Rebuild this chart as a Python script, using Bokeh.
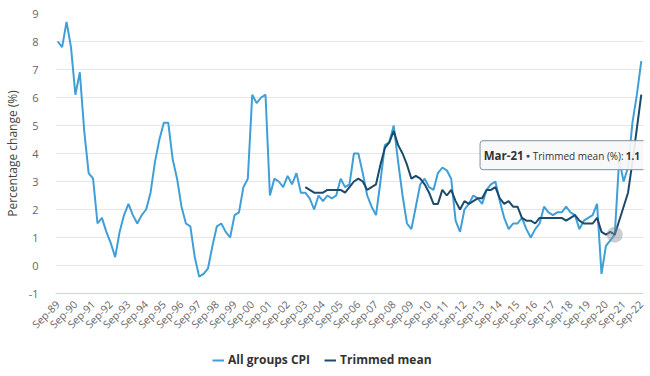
import math
from bokeh.plotting import figure
from bokeh.layouts import column
from bokeh.models import (FixedTicker, Legend, LegendItem, Label, BoxAnnotation,
                          Range1d, ColumnDataSource)
from bokeh.embed import file_html
from bokeh.resources import INLINE

# ---------------- data ----------------
first_quarter = "Sep-89"
n_quarters = 133
quarter_months = ["Sep", "Dec", "Mar", "Jun"]

tick_labels = ["Sep-89", "Sep-90", "Sep-91", "Sep-92", "Sep-93", "Sep-94", "Sep-95",
               "Sep-96", "Sep-97", "Sep-98", "Sep-99", "Sep-00", "Sep-01", "Sep-02",
               "Sep-03", "Sep-04", "Sep-05", "Sep-06", "Sep-07", "Sep-08", "Sep-09",
               "Sep-10", "Sep-11", "Sep-12", "Sep-13", "Sep-14", "Sep-15", "Sep-16",
               "Sep-17", "Sep-18", "Sep-19", "Sep-20", "Sep-21", "Sep-22"]

# All groups CPI, year-ended % change, Sep-89 .. Sep-22
cpi = [8.0, 7.8, 8.7, 7.8, 6.1, 6.9, 4.8, 3.3, 3.1, 1.5,
       1.7, 1.2, 0.8, 0.3, 1.2, 1.8, 2.2, 1.8, 1.5, 1.8,
       2.0, 2.6, 3.7, 4.5, 5.1, 5.1, 3.8, 3.1, 2.1, 1.5,
       1.4, 0.3, -0.4, -0.3, -0.1, 0.7, 1.4, 1.5, 1.2, 1.0,
       1.8, 1.9, 2.8, 3.1, 6.1, 5.8, 6.0, 6.1, 2.5, 3.1,
       3.0, 2.8, 3.2, 2.9, 3.3, 2.6, 2.6, 2.4, 2.0, 2.5,
       2.3, 2.5, 2.4, 2.5, 3.1, 2.8, 2.9, 4.0, 4.0, 3.3,
       2.5, 2.1, 1.8, 3.0, 4.3, 4.4, 5.0, 3.7, 2.5, 1.5,
       1.3, 2.1, 2.9, 3.1, 2.8, 2.7, 3.3, 3.5, 3.4, 3.1,
       1.6, 1.2, 2.0, 2.2, 2.5, 2.4, 2.2, 2.7, 2.9, 3.0,
       2.3, 1.7, 1.3, 1.5, 1.5, 1.7, 1.3, 1.0, 1.3, 1.5,
       2.1, 1.9, 1.8, 1.9, 1.9, 2.1, 1.9, 1.8, 1.3, 1.6,
       1.7, 1.8, 2.2, -0.3, 0.7, 0.9, 1.1, 3.8, 3.0, 3.5,
       5.1, 6.1, 7.3]

# Trimmed mean, year-ended % change, Sep-03 .. Sep-22
trimmed_start = "Sep-03"
trimmed = [2.8, 2.7, 2.6, 2.6, 2.6, 2.7, 2.7, 2.7, 2.7, 2.6,
           2.8, 3.0, 3.1, 3.0, 2.7, 2.8, 2.9, 3.6, 4.2, 4.4,
           4.8, 4.3, 4.0, 3.6, 3.1, 3.2, 3.1, 2.9, 2.6, 2.2,
           2.2, 2.7, 2.5, 2.7, 2.3, 2.0, 2.3, 2.2, 2.3, 2.4,
           2.4, 2.7, 2.7, 2.8, 2.4, 2.2, 2.3, 2.1, 2.1, 1.7,
           1.6, 1.6, 1.5, 1.7, 1.7, 1.7, 1.7, 1.7, 1.7, 1.6,
           1.7, 1.8, 1.6, 1.5, 1.5, 1.5, 1.7, 1.2, 1.1, 1.2,
           1.1, 1.6, 2.1, 2.6, 3.7, 4.9, 6.1]

tooltip_quarter = "Mar-21"
tooltip_series = "Trimmed mean (%)"

series_names = ["All groups CPI", "Trimmed mean"]
cpi_color = "#3f9fd6"
tm_color = "#1b4a6d"

# ---------------- build ----------------
quarters = []
for k in range(n_quarters):
    yr = 1989 + (k + 2) // 4
    quarters.append(f"{quarter_months[k % 4]}-{yr % 100:02d}")

cpi_x = list(range(len(cpi)))
t0 = quarters.index(trimmed_start)
tm_x = list(range(t0, t0 + len(trimmed)))

src_cpi = ColumnDataSource(dict(x=cpi_x, y=cpi, q=quarters[:len(cpi)]))
src_tm = ColumnDataSource(dict(x=tm_x, y=trimmed, q=quarters[t0:t0 + len(trimmed)]))

FONT = "Open Sans"
MAIN_H = 340
LEG_H = 376 - MAIN_H

p = figure(width=650, height=MAIN_H, output_backend="svg", toolbar_location=None,
           x_range=Range1d(-0.5, n_quarters - 0.5), y_range=Range1d(-1, 9),
           min_border_left=45, min_border_right=7, min_border_top=13,
           min_border_bottom=MAIN_H - 293)
p.outline_line_color = None
p.background_fill_color = "white"
p.border_fill_color = "white"

# x axis
tick_pos = [quarters.index(t) for t in tick_labels]
p.xaxis.ticker = FixedTicker(ticks=tick_pos)
p.xaxis.major_label_overrides = {pos: lab for pos, lab in zip(tick_pos, tick_labels)}
p.xaxis.major_label_orientation = math.pi / 4
p.xaxis.axis_line_color = "#ccd6eb"
p.xaxis.major_tick_line_color = None
p.xaxis.minor_tick_line_color = None
p.xaxis.major_label_text_color = "#666666"
p.xaxis.major_label_text_font = FONT
p.xaxis.major_label_text_font_size = "10.5px"
p.xaxis.major_label_standoff = 3
p.xgrid.grid_line_color = None

# y axis
y_ticks = list(range(-1, 10))
p.yaxis.ticker = FixedTicker(ticks=y_ticks)
p.yaxis.major_label_overrides = {t: str(t) for t in y_ticks}
p.yaxis.axis_line_color = None
p.yaxis.major_tick_line_color = None
p.yaxis.minor_tick_line_color = None
p.yaxis.major_label_text_color = "#666666"
p.yaxis.major_label_text_font = FONT
p.yaxis.major_label_text_font_size = "11px"
p.yaxis.major_label_standoff = 11
p.yaxis.axis_label = "Percentage change (%)"
p.yaxis.axis_label_text_font = FONT
p.yaxis.axis_label_text_font_size = "12px"
p.yaxis.axis_label_text_font_style = "normal"
p.yaxis.axis_label_text_color = "#444444"
p.yaxis.axis_label_standoff = 5
p.ygrid.grid_line_color = "#e6e6e6"
p.ygrid.grid_line_width = 1

# lines
r1 = p.line("x", "y", source=src_cpi, line_color=cpi_color, line_width=2)
r2 = p.line("x", "y", source=src_tm, line_color=tm_color, line_width=2)

# hovered point halo
ti = quarters.index(tooltip_quarter)
tv = trimmed[ti - t0]
p.scatter([ti], [tv], size=16, fill_color="#8a9099", fill_alpha=0.45, line_color=None)

# tooltip box (offsets in pixels from the hovered point)
px_x = 598 / n_quarters
px_y = 280 / 10
box = BoxAnnotation(left=ti - 137 / px_x, right=ti + 33 / px_x,
                    top=tv + 94 / px_y, bottom=tv + 65 / px_y,
                    fill_color="#f7f7f7", fill_alpha=0.92,
                    line_color="#7f92a6", line_width=1, line_alpha=1)
box.border_radius = 3
p.add_layout(box)

lab_kw = dict(x=ti, y=tv, text_baseline="middle", text_font=FONT, text_color="#333333")
p.add_layout(Label(x_offset=-131, y_offset=79, text=tooltip_quarter,
                   text_font_size="11.5px", text_font_style="bold", **lab_kw))
p.add_layout(Label(x=ti, y=tv, x_offset=-89, y_offset=79, text="\u25CF",
                   text_font_size="7px", text_color=tm_color, text_baseline="middle",
                   text_font=FONT))
p.add_layout(Label(x_offset=-82, y_offset=79, text=tooltip_series + ":",
                   text_font_size="10px", **lab_kw))
p.add_layout(Label(x_offset=11, y_offset=79, text=f"{tv:.1f}",
                   text_font_size="10px", text_font_style="bold", **lab_kw))

# legend in a strip below the chart (its lines carry the series but sit off-view)
q = figure(width=650, height=LEG_H, output_backend="svg", toolbar_location=None,
           x_range=Range1d(-0.5, n_quarters - 0.5), y_range=Range1d(100, 101),
           x_axis_location=None, y_axis_location=None,
           min_border_left=0, min_border_right=0, min_border_top=0, min_border_bottom=0)
q.outline_line_color = None
q.xgrid.grid_line_color = None
q.ygrid.grid_line_color = None
q.background_fill_color = "white"
q.border_fill_color = "white"
k1 = q.line("x", "y", source=src_cpi, line_color=cpi_color, line_width=2)
k2 = q.line("x", "y", source=src_tm, line_color=tm_color, line_width=2)

legend = Legend(items=[LegendItem(label=series_names[0], renderers=[k1]),
                       LegendItem(label=series_names[1], renderers=[k2])],
                orientation="horizontal", location=(157, 8))
legend.label_text_font = FONT
legend.label_text_font_size = "12px"
legend.label_text_font_style = "bold"
legend.label_text_color = "#333333"
legend.glyph_width = 12
legend.glyph_height = 16
legend.label_standoff = 4
legend.spacing = 14
legend.padding = 0
legend.margin = 0
legend.border_line_color = None
legend.background_fill_alpha = 0
q.add_layout(legend)

layout = column(p, q, spacing=0)
open("out.html", "w").write(file_html(layout, INLINE))
